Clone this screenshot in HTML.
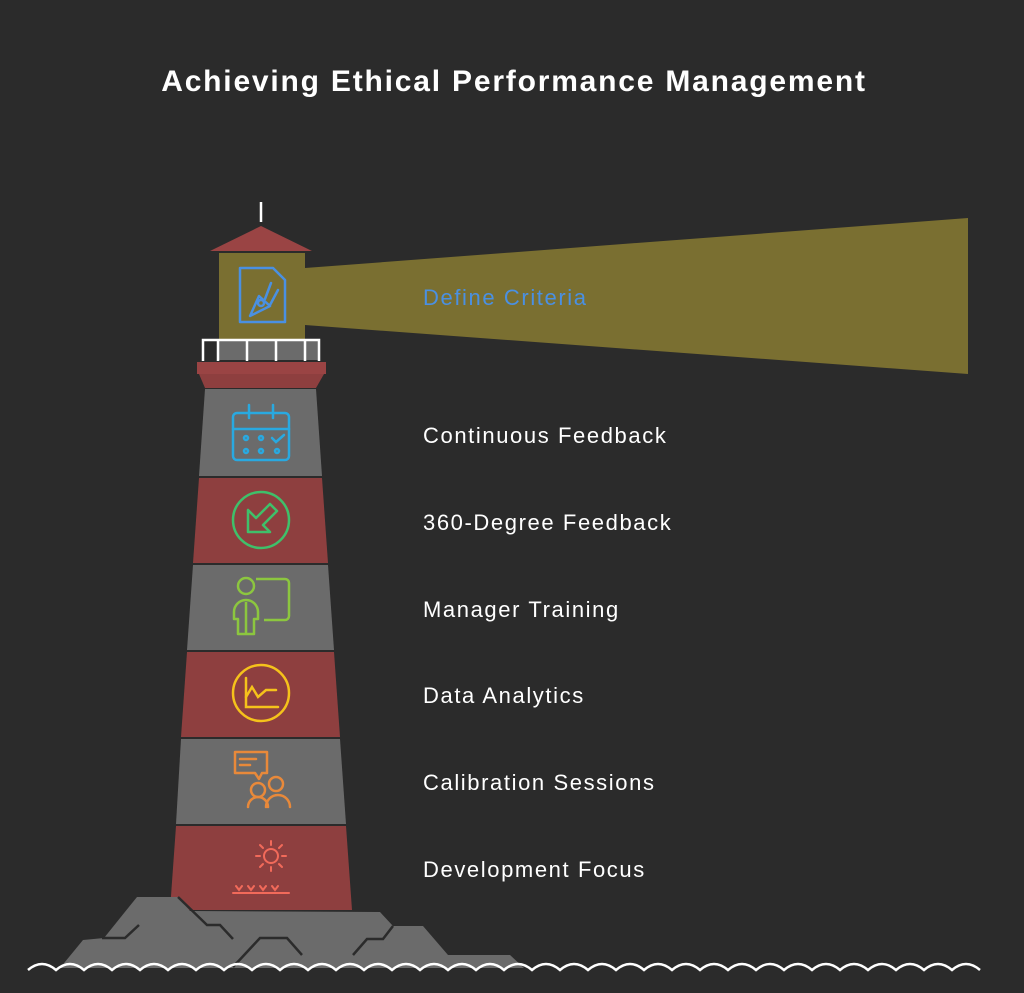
<!DOCTYPE html>
<html><head><meta charset="utf-8"><style>
body{margin:0;background:#2b2b2b;}
svg{display:block}
text{font-family:"Liberation Sans",sans-serif;}
</style></head><body>
<svg width="1024" height="993" viewBox="0 0 1024 993" xmlns="http://www.w3.org/2000/svg">
<rect width="1024" height="993" fill="#2b2b2b"/>
<text x="514" y="91" text-anchor="middle" fill="#fff" font-size="30" font-weight="bold" letter-spacing="1.8">Achieving Ethical Performance Management</text>

<!-- beam -->
<polygon points="305,268 968,218 968,374 305,325" fill="#7a6f31"/>
<line x1="261" y1="202" x2="261" y2="222" stroke="#fff" stroke-width="2.5"/>
<polygon points="210,251 312,251 261,226" fill="#9a4444"/>
<rect x="219" y="253" width="86" height="86" fill="#7a6f31"/>
<g fill="none" stroke="#4a90e2" stroke-width="2.5" stroke-linejoin="round" stroke-linecap="round">
<path d="M240,268 H273 L285,280 V322 H240 Z"/>
<path d="M250,316 L259,296 L270,306 Z"/>
<circle cx="261" cy="303" r="3"/>
<path d="M265,299 L271,283 M270,305 L278,290"/>
</g>
<rect x="202" y="339" width="118" height="22" fill="#2b2b2b"/>
<rect x="218" y="341" width="100" height="19" fill="#6b6b6b"/>
<g stroke="#fff" stroke-width="2.5" fill="none">
<path d="M203,361 V340 H319 V361"/>
<line x1="218" y1="340" x2="218" y2="361"/>
<line x1="247" y1="340" x2="247" y2="361"/>
<line x1="276" y1="340" x2="276" y2="361"/>
<line x1="305" y1="340" x2="305" y2="361"/>
</g>
<rect x="197" y="362" width="129" height="12" fill="#9a4444"/>
<polygon points="199,374 324,374 316,388 205,388" fill="#8e3f3f"/>

<polygon points="205,389 316,389 322,476 199,476" fill="#6b6b6b"/>
<polygon points="199,478 322,478 328,563 193,563" fill="#8e3f3f"/>
<polygon points="193,565 328,565 334,650 187,650" fill="#6b6b6b"/>
<polygon points="187,652 334,652 340,737 181,737" fill="#8e3f3f"/>
<polygon points="181,739 340,739 346,824 176,824" fill="#6b6b6b"/>
<polygon points="176,826 346,826 352,910 170,910" fill="#8e3f3f"/>

<g fill="none" stroke="#29a9e0" stroke-width="2.5" stroke-linecap="round">
<rect x="233" y="413" width="56" height="47" rx="4"/>
<line x1="233" y1="429" x2="289" y2="429"/>
<line x1="249" y1="405" x2="249" y2="418"/>
<line x1="273" y1="405" x2="273" y2="418"/>
<circle cx="246" cy="438" r="2"/><circle cx="261" cy="438" r="2"/>
<path d="M272,438 l4,4 l8,-7"/>
<circle cx="246" cy="451" r="2"/><circle cx="261" cy="451" r="2"/><circle cx="277" cy="451" r="2"/>
</g>
<g fill="none" stroke="#3fc06a" stroke-width="2.5" stroke-linejoin="round">
<circle cx="261" cy="520" r="28"/>
<path d="M248,510 V532 H270 L263,525 L277,511 L270,504 L256,518 Z"/>
</g>
<g fill="none" stroke="#8cc63f" stroke-width="2.5" stroke-linejoin="round">
<path d="M256,579 H285 a4,4 0 0 1 4,4 V616 a4,4 0 0 1 -4,4 H264"/>
<circle cx="246" cy="586" r="8"/>
<path d="M234,612 a12,12 0 0 1 24,0 V619 H254 V634 H238 V619 H234 Z"/>
<line x1="246" y1="602" x2="246" y2="634"/>
</g>
<g fill="none" stroke="#f5c21b" stroke-width="2.5" stroke-linecap="round">
<circle cx="261" cy="693" r="28"/>
<path d="M246,678 V707 H278"/>
<path d="M246,697 L252,687 L258,697 L266,690 H276"/>
</g>
<g fill="none" stroke="#e8893a" stroke-width="2.5" stroke-linejoin="round" stroke-linecap="round">
<path d="M235,752 H267 V773 H262 L259,779 L255,773 H235 Z"/>
<line x1="240" y1="759" x2="256" y2="759"/><line x1="240" y1="765" x2="250" y2="765"/>
<circle cx="258" cy="790" r="7"/><circle cx="276" cy="784" r="7"/>
<path d="M248,807 a10,10 0 0 1 20,0"/><path d="M266,807 a12,12 0 0 1 24,0"/>
</g>
<g fill="none" stroke="#f26a5a" stroke-width="2" stroke-linecap="round">
<circle cx="271" cy="856" r="7"/>
<line x1="271" y1="841" x2="271" y2="845"/><line x1="271" y1="867" x2="271" y2="871"/>
<line x1="256" y1="856" x2="260" y2="856"/><line x1="282" y1="856" x2="286" y2="856"/>
<line x1="260" y1="845" x2="263" y2="848"/><line x1="279" y1="864" x2="282" y2="867"/>
<line x1="282" y1="845" x2="279" y2="848"/><line x1="260" y1="867" x2="263" y2="864"/>
<line x1="233" y1="893" x2="289" y2="893"/>
<path d="M236,886 l3,4 l3,-4 M248,886 l3,4 l3,-4 M260,886 l3,4 l3,-4 M272,886 l3,4 l3,-4"/>
</g>

<!-- rocks -->
<polygon points="137,897 178,897 190,911 380,912 393,926 423,926 448,955 510,955 524,968 60,968 83,940 104,938" fill="#6b6b6b"/>
<g fill="none" stroke="#2b2b2b" stroke-width="2.5">
<path d="M102,938 H125 L139,925"/>
<path d="M178,897 L207,925 H220 L233,939"/>
<path d="M233,967 L260,938 H287 L302,955"/>
<path d="M353,955 L367,939 H383 L393,926"/>
</g>
<path d="M28,970 q14,-12 28,0 q14,-12 28,0 q14,-12 28,0 q14,-12 28,0 q14,-12 28,0 q14,-12 28,0 q14,-12 28,0 q14,-12 28,0 q14,-12 28,0 q14,-12 28,0 q14,-12 28,0 q14,-12 28,0 q14,-12 28,0 q14,-12 28,0 q14,-12 28,0 q14,-12 28,0 q14,-12 28,0 q14,-12 28,0 q14,-12 28,0 q14,-12 28,0 q14,-12 28,0 q14,-12 28,0 q14,-12 28,0 q14,-12 28,0 q14,-12 28,0 q14,-12 28,0 q14,-12 28,0 q14,-12 28,0 q14,-12 28,0 q14,-12 28,0 q14,-12 28,0 q14,-12 28,0 q14,-12 28,0 q14,-12 28,0" fill="none" stroke="#fff" stroke-width="2.5"/>

<g font-size="22" letter-spacing="1.6" fill="#fff">
<text x="423" y="305" fill="#4a90e2">Define Criteria</text>
<text x="423" y="443">Continuous Feedback</text>
<text x="423" y="530">360-Degree Feedback</text>
<text x="423" y="617">Manager Training</text>
<text x="423" y="703">Data Analytics</text>
<text x="423" y="790">Calibration Sessions</text>
<text x="423" y="877">Development Focus</text>
</g>
</svg>
</body></html>
